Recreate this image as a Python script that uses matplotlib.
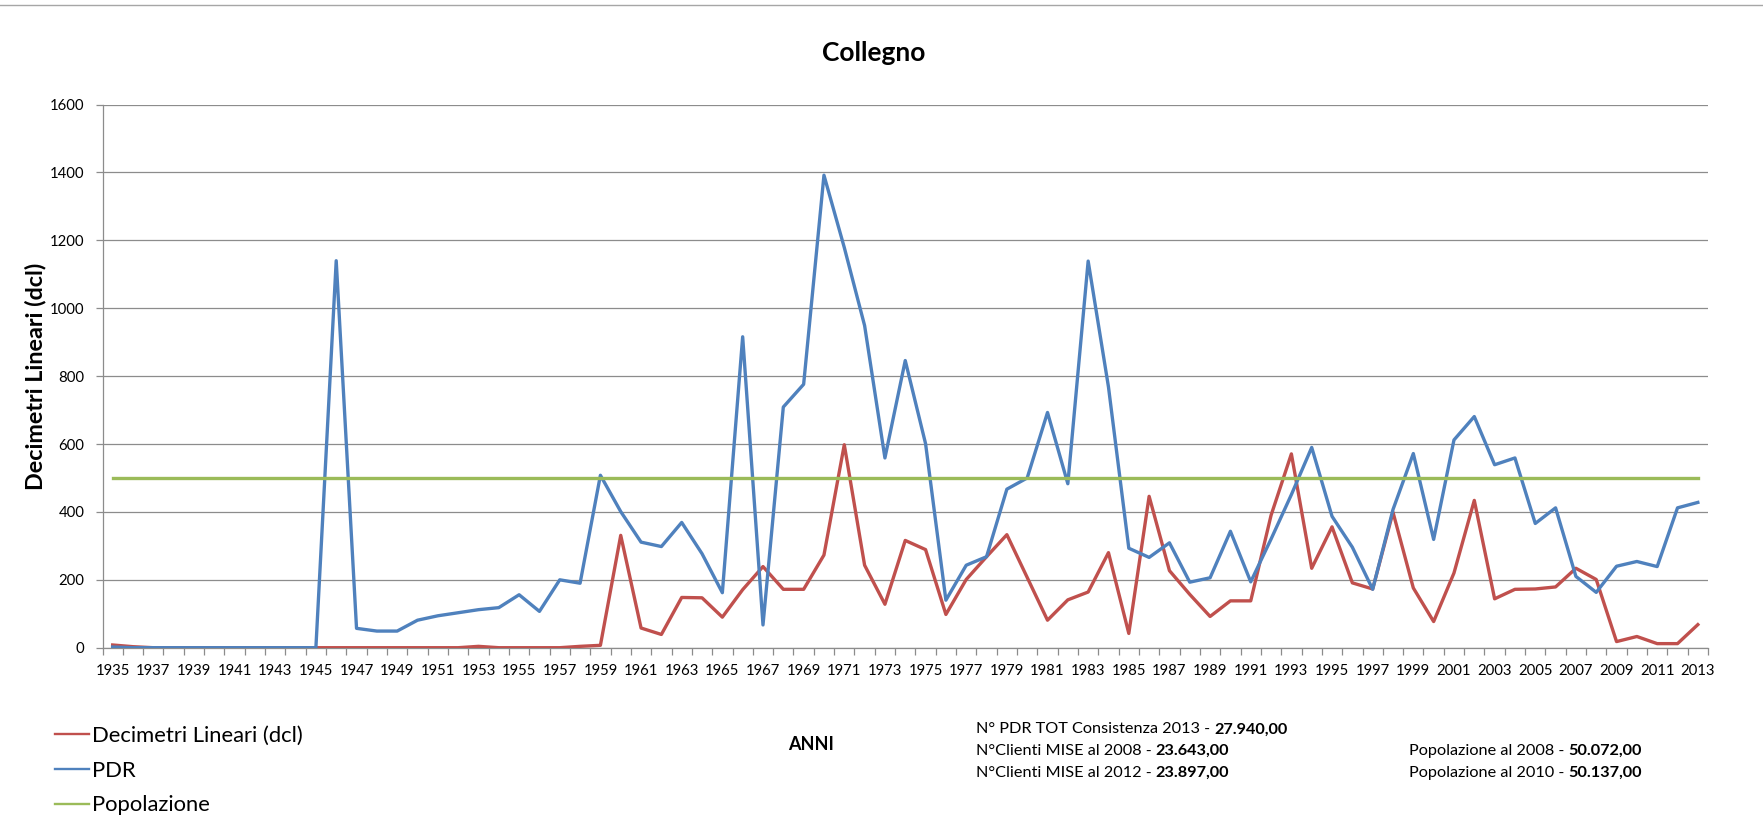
import numpy as np
import matplotlib
matplotlib.use("Agg")
import matplotlib.pyplot as plt
from matplotlib.lines import Line2D

# --- data ---
anni = list(range(1935, 2014))

dcl = [8, 3, 0, 0, 0, 0, 0, 0, 0, 0,
       0, 0, 0, 0, 0, 0, 0, 0, 4, 0,
       0, 0, 0, 4, 7, 331, 58, 39, 148, 147,
       90, 171, 239, 172, 172, 273, 598, 243, 128, 316,
       289, 98, 201, 268, 333, 207, 81, 141, 164, 280,
       42, 446, 227, 157, 92, 138, 138, 390, 571, 234,
       356, 191, 173, 399, 176, 77, 220, 434, 144, 172,
       173, 179, 234, 201, 18, 33, 12, 12, 68]

pdr = [2, 0, 0, 0, 0, 0, 0, 0, 0, 0,
       0, 1140, 57, 49, 49, 81, 94, 103, 112, 118,
       156, 107, 200, 190, 508, 401, 311, 298, 369, 277,
       162, 916, 67, 709, 776, 1392, 1179, 949, 559, 846,
       601, 140, 243, 268, 467, 500, 693, 483, 1139, 768,
       293, 266, 309, 193, 206, 343, 194, 320, 451, 590,
       387, 296, 172, 407, 572, 319, 612, 681, 539, 559,
       366, 412, 210, 163, 240, 254, 239, 412, 428]

popolazione = [500] * len(anni)

serie_nomi = ["Decimetri Lineari (dcl)", "PDR", "Popolazione"]
serie_colori = ["#C0504D", "#4F81BD", "#9BBB59"]

note_sx = [("N° PDR TOT Consistenza 2013 - ", "27.940,00"),
           ("N°Clienti MISE al 2008 - ", "23.643,00"),
           ("N°Clienti MISE al 2012 - ", "23.897,00")]
note_dx = [("Popolazione al 2008 - ", "50.072,00"),
           ("Popolazione al 2010 - ", "50.137,00")]

W, H = 1763, 816
fig = plt.figure(figsize=(W / 100, H / 100), dpi=100)
ax_top, ax_bot = 1 - 104.6 / H, 1 - 647.7 / H
ax = fig.add_axes([102.5 / W, ax_bot, (1708 - 102.5) / W, ax_top - ax_bot])

x = np.arange(len(anni))
for vals, nome, col in zip([dcl, pdr, popolazione], serie_nomi, serie_colori):
    ax.plot(x, vals, color=col, lw=2.4, label=nome, zorder=3)

ax.set_xlim(-0.5, len(anni) - 0.5)
ax.set_ylim(0, 1600)
ax.set_yticks(range(0, 1601, 200))
ax.grid(axis="y", color="#8c8c8c", lw=0.9)
ax.set_axisbelow(True)

ax.set_xticks(x[::2])
ax.set_xticklabels([str(a) for a in anni[::2]])
ax.set_xticks(np.arange(-0.5, len(anni)), minor=True)
ax.tick_params(axis="x", which="major", length=0, pad=11.5, labelsize=10.7)
ax.tick_params(axis="x", which="minor", length=5, color="#8c8c8c", width=0.9)
ax.tick_params(axis="y", length=5, color="#8c8c8c", width=0.9, pad=8, labelsize=10.7)
for lab in ax.get_xticklabels() + ax.get_yticklabels():
    lab.set_family("Lato")

for s in ["top", "right"]:
    ax.spines[s].set_visible(False)
for s in ["left", "bottom"]:
    ax.spines[s].set_color("#8c8c8c")
    ax.spines[s].set_linewidth(0.9)

ax.set_ylabel("Decimetri Lineari (dcl)", fontsize=16.8, fontweight="bold", family="Lato")
ax.yaxis.set_label_coords(46 / W, (ax_top + ax_bot) / 2, transform=fig.transFigure)

fig.text(874 / W, 1 - 53 / H, "Collegno", ha="center", va="center",
         fontsize=19, fontweight="bold", family="Lato")
fig.text(811 / W, 1 - 744 / H, "ANNI", ha="center", va="center",
         fontsize=13, fontweight="bold", family="Lato")

# top border line
fig.add_artist(Line2D([0, 1], [1 - 5 / H, 1 - 5 / H], transform=fig.transFigure,
                      color="#a6a6a6", lw=1))

handles = [Line2D([], [], color=c, lw=1.7) for c in serie_colori]
fig.legend(handles, serie_nomi, loc="upper left", bbox_to_anchor=(55 / W, 1 - 726 / H),
           frameon=False, prop={"family": "Lato", "size": 15.8}, handlelength=1.55,
           handletextpad=0.14, labelspacing=0.67, borderpad=0, borderaxespad=0)

renderer = fig.canvas.get_renderer()

def riga(xp, yp, testo, grassetto):
    t = fig.text(xp / W, 1 - yp / H, testo, ha="left", va="baseline",
                 fontsize=11.7, family="Lato")
    bb = t.get_window_extent(renderer)
    fig.text(bb.x1 / W, 1 - yp / H, grassetto, ha="left", va="baseline",
             fontsize=11.7, fontweight="bold", family="Lato")

for i, (a, b) in enumerate(note_sx):
    riga(976, 733.3 + 21.7 * i, a, b)
for i, (a, b) in enumerate(note_dx):
    riga(1409, 755 + 21.7 * i, a, b)

fig.savefig("out.png", dpi=100)
